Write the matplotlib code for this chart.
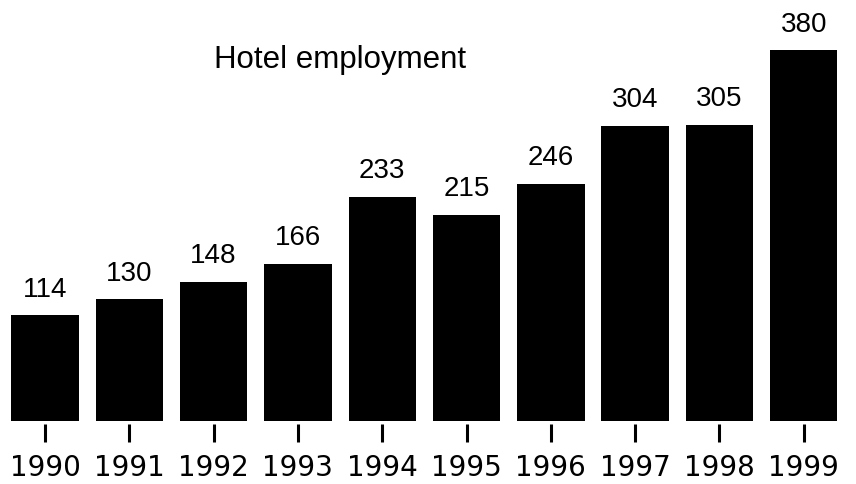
import matplotlib.pyplot as plt
import numpy as np

years = ['1990', '1991', '1992', '1993', '1994', '1995', '1996', '1997', '1998', '1999']
employment = [114, 130, 148, 166, 233, 215, 246, 304, 305, 380]
title = 'Hotel employment'

fnt = ['Liberation Sans', 'DejaVu Sans']

fig = plt.figure(figsize=(8.56, 4.85), dpi=100)
# axes fills the figure above the bar baseline
ax = fig.add_axes([0, 63 / 485, 1, 422 / 485])

x = np.arange(len(years))
bars = ax.bar(x, employment, width=0.8, color='black')
vals = ax.bar_label(bars, labels=[str(v) for v in employment], padding=10)
for t in vals:
    t.set_fontsize(20)
    t.set_family(fnt)

ax.set_xlim(-0.534, 9.62)
ax.set_ylim(8, 8 + 422 / 0.996)

ax.set_xticks(x)
ax.set_xticklabels(years)
ax.tick_params(axis='x', direction='out', length=13, width=2.2, pad=8,
               color='black', labelsize=20)
for lab in ax.get_xticklabels():
    lab.set_family(fnt)
ax.set_yticks([])
for s in ['top', 'right', 'left']:
    ax.spines[s].set_visible(False)
ax.spines['bottom'].set_position(('outward', 2))
ax.spines['bottom'].set_color('none')

fig.text(214 / 856, 1 - 60 / 485, title, fontsize=22.5, family=fnt,
         va='center', ha='left')

fig.savefig('out.png', dpi=100)
